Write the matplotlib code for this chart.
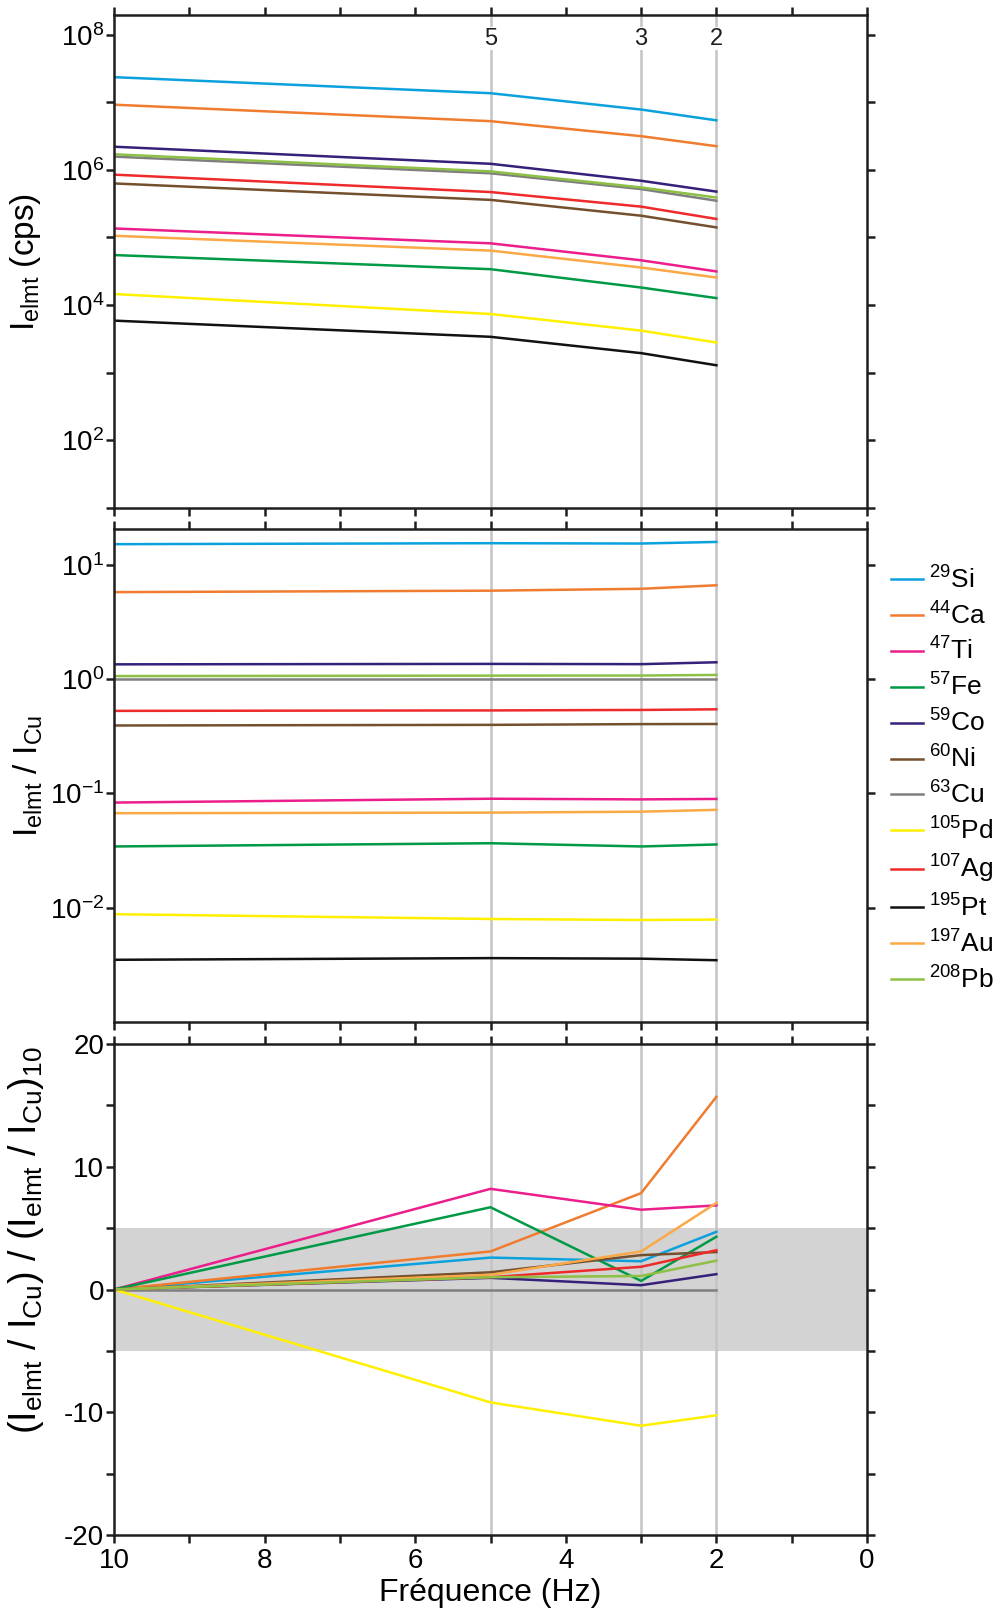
import math
import matplotlib
matplotlib.use('Agg')
import matplotlib.pyplot as plt
from matplotlib.ticker import FixedLocator, FuncFormatter, NullLocator

plt.rcParams['font.family'] = ['Liberation Sans', 'DejaVu Sans']
plt.rcParams['mathtext.default'] = 'regular'
plt.rcParams['axes.unicode_minus'] = False

# ---------------- data ----------------
freq = [10, 5, 3, 2]
marked_freq = [5, 3, 2]
elements = ['Si', 'Ca', 'Ti', 'Fe', 'Co', 'Ni', 'Cu', 'Pd', 'Ag', 'Pt', 'Au', 'Pb']
masses = ['29', '44', '47', '57', '59', '60', '63', '105', '107', '195', '197', '208']
colors = ['#0BA1DD', '#F07C30', '#EC1E8C', '#009A46', '#35207A', '#74502F',
          '#7F7F7F', '#FFF000', '#EE2A2A', '#111111', '#FBA846', '#8DC044']

# panel 1: intensity (cps)
int_si = [2.35e7, 1.36e7, 7.8e6, 5.4e6]
int_ca = [9.2e6, 5.25e6, 3.15e6, 2.24e6]
int_ti = [1.36e5, 8.2e4, 4.6e4, 3.15e4]
int_fe = [5.5e4, 3.4e4, 1.82e4, 1.27e4]
int_co = [2.2e6, 1.23e6, 6.9e5, 4.77e5]
int_ni = [6.3e5, 3.6e5, 2.1e5, 1.41e5]
int_cu = [1.57e6, 8.9e5, 5.2e5, 3.5e5]
int_pd = [1.46e4, 7.4e3, 4.2e3, 2.8e3]
int_ag = [8.5e5, 4.7e5, 2.86e5, 1.88e5]
int_pt = [5.9e3, 3.4e3, 1.95e3, 1.29e3]
int_au = [1.06e5, 6.4e4, 3.6e4, 2.56e4]
int_pb = [1.70e6, 9.5e5, 5.5e5, 3.9e5]

# panel 2: ratio to Cu
rat_si = [15.1, 15.4, 15.3, 15.8]
rat_ca = [5.75, 5.92, 6.15, 6.6]
rat_ti = [0.083, 0.0897, 0.0885, 0.0893]
rat_fe = [0.0343, 0.0366, 0.0343, 0.0357]
rat_co = [1.343, 1.355, 1.348, 1.40]
rat_ni = [0.392, 0.397, 0.403, 0.404]
rat_cu = [1.0, 1.0, 1.0, 1.0]
rat_pd = [0.00877, 0.00796, 0.0078, 0.00787]
rat_ag = [0.526, 0.531, 0.536, 0.543]
rat_pt = [0.0035, 0.00362, 0.00358, 0.00347]
rat_au = [0.067, 0.0678, 0.0691, 0.0717]
rat_pb = [1.06, 1.07, 1.072, 1.085]

# panel 3: ratio normalised to 10 Hz (%)
nrm_si = [0, 2.6, 2.3, 4.7]
nrm_ca = [0, 3.1, 7.85, 15.7]
nrm_ti = [0, 8.2, 6.5, 6.85]
nrm_fe = [0, 6.7, 0.7, 4.3]
nrm_co = [0, 0.95, 0.35, 1.25]
nrm_ni = [0, 1.4, 2.8, 3.05]
nrm_cu = [0, 0, 0, 0]
nrm_pd = [0, -9.2, -11.1, -10.25]
nrm_ag = [0, 1.0, 1.85, 3.2]
nrm_pt = None
nrm_au = [0, 1.2, 3.1, 7.05]
nrm_pb = [0, 1.0, 1.1, 2.35]

intensity = [int_si, int_ca, int_ti, int_fe, int_co, int_ni, int_cu, int_pd, int_ag, int_pt, int_au, int_pb]
ratio = [rat_si, rat_ca, rat_ti, rat_fe, rat_co, rat_ni, rat_cu, rat_pd, rat_ag, rat_pt, rat_au, rat_pb]
normed = [nrm_si, nrm_ca, nrm_ti, nrm_fe, nrm_co, nrm_ni, nrm_cu, nrm_pd, nrm_ag, nrm_pt, nrm_au, nrm_pb]

# ---------------- figure ----------------
W, H = 1002, 1618
fig = plt.figure(figsize=(W / 100, H / 100), dpi=100)

def fr(x0, y0, x1, y1):
    return [x0 / W, 1 - y1 / H, (x1 - x0) / W, (y1 - y0) / H]

ax1 = fig.add_axes(fr(114, 15, 867, 508))
ax2 = fig.add_axes(fr(114, 529, 867, 1022))
ax3 = fig.add_axes(fr(114, 1044, 867, 1535))

LW = 1.8
TICK_FS = 20
LABEL_FS = 24
SPINE_LW = 1.8
INK = '#1E1E1E'

for ax in (ax1, ax2, ax3):
    ax.set_xlim(10, 0)
    for s in ax.spines.values():
        s.set_linewidth(SPINE_LW)
        s.set_color(INK)
    ax.xaxis.set_major_locator(FixedLocator(list(range(0, 11))))
    ax.xaxis.set_minor_locator(NullLocator())
    ax.tick_params(axis='x', which='both', top=True, bottom=True, direction='out',
                   length=6, width=SPINE_LW, color=INK, labelbottom=False,
                   labelsize=TICK_FS)
    ax.tick_params(axis='y', which='major', left=True, right=True, direction='out',
                   length=6, width=SPINE_LW, color=INK, labelsize=TICK_FS, pad=1)
    ax.tick_params(axis='y', which='minor', left=False, right=False)
    for xv in marked_freq:
        ax.axvline(xv, color='#C4C4C4', lw=1.8, zorder=0.5)

# panel 1
for vals, c in zip(intensity, colors):
    ax1.plot(freq, vals, color=c, lw=LW)
ax1.set_yscale('log')
ax1.set_ylim(10, 1.95e8)
ax1.yaxis.set_major_locator(FixedLocator([10.0 ** k for k in range(1, 9)]))
ax1.yaxis.set_minor_locator(NullLocator())

def fmt_even(v, pos):
    k = int(round(math.log10(v)))
    return r'$10^{%d}$' % k if k % 2 == 0 else ''

ax1.yaxis.set_major_formatter(FuncFormatter(fmt_even))
for xv in marked_freq:
    ax1.text(xv, 0.952, str(xv), transform=ax1.get_xaxis_transform(), ha='center',
             va='center', fontsize=17, color=INK,
             bbox=dict(facecolor='white', edgecolor='none', pad=0.5), zorder=3)
ax1.set_ylabel(r'I$_{elmt}$ (cps)', fontsize=LABEL_FS)
ax1.yaxis.set_label_coords(-0.094, 0.5)

# panel 2
handles = []
for vals, c in zip(ratio, colors):
    h, = ax2.plot(freq, vals, color=c, lw=LW)
    handles.append(h)
ax2.set_yscale('log')
ax2.set_ylim(1e-3, 20.5)
ax2.yaxis.set_major_locator(FixedLocator([1e-2, 1e-1, 1e0, 1e1]))
ax2.yaxis.set_minor_locator(NullLocator())
ax2.yaxis.set_major_formatter(FuncFormatter(lambda v, p: r'$10^{%d}$' % int(round(math.log10(v)))))
ax2.set_ylabel(r'I$_{elmt}$ / I$_{Cu}$', fontsize=LABEL_FS)
ax2.yaxis.set_label_coords(-0.092, 0.5)

# panel 3
ax3.axhspan(-5, 5, color='#D3D3D3', lw=0, zorder=0.2)
for vals, c in zip(normed, colors):
    if vals is None:
        continue
    ax3.plot(freq, vals, color=c, lw=LW)
ax3.set_ylim(-20, 20)
ax3.yaxis.set_major_locator(FixedLocator(list(range(-20, 21, 5))))
ax3.yaxis.set_major_formatter(FuncFormatter(lambda v, p: '%d' % v if int(v) % 10 == 0 else ''))
ax3.tick_params(axis='x', labelbottom=True, pad=3)
ax3.xaxis.set_major_formatter(FuncFormatter(lambda v, p: '%d' % v if int(v) % 2 == 0 else ''))
ax3.set_xlabel('Fréquence (Hz)', fontsize=LABEL_FS - 1, labelpad=3)
ax3.set_ylabel(r'(I$_{elmt}$ / I$_{Cu}$) / (I$_{elmt}$ / I$_{Cu}$)$_{10}$', fontsize=27)
ax3.yaxis.set_label_coords(-0.090, 0.6)

labels = [r'$^{%s}$%s' % (m, e) for m, e in zip(masses, elements)]
fig.legend(handles, labels, loc='upper left', bbox_to_anchor=(891 / W, 1 - 566 / H),
           frameon=False, fontsize=19, handlelength=1.2, handletextpad=0.25,
           labelspacing=0.33, borderpad=0, borderaxespad=0)

fig.savefig('out.png', dpi=100, facecolor='white')
